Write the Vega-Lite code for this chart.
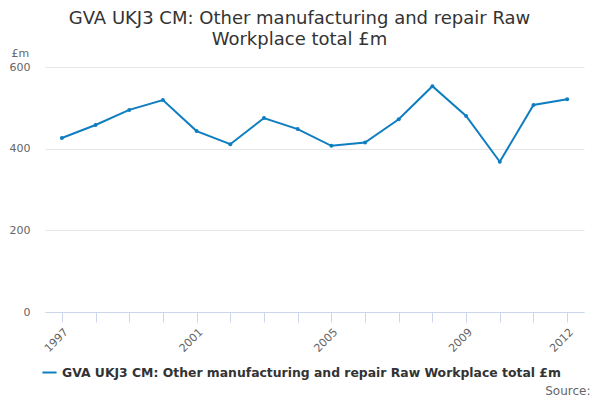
{
  "$schema": "https://vega.github.io/schema/vega-lite/v6.json",
  "autosize": {"type": "none"},
  "width": 539,
  "height": 245,
  "padding": {"left": 45, "top": 67, "right": 16, "bottom": 88},
  "title": {
    "text": ["GVA UKJ3 CM: Other manufacturing and repair Raw", "Workplace total £m"],
    "anchor": "middle",
    "dx": -15,
    "offset": -2,
    "fontSize": 18,
    "fontWeight": "normal",
    "lineHeight": 21,
    "color": "#333333",
    "font": "DejaVu Sans"
  },
  "data": {
    "values": [
      {"year": "1997", "value": 426, "series": "GVA UKJ3 CM: Other manufacturing and repair Raw Workplace total £m"},
      {"year": "1998", "value": 458, "series": "GVA UKJ3 CM: Other manufacturing and repair Raw Workplace total £m"},
      {"year": "1999", "value": 495, "series": "GVA UKJ3 CM: Other manufacturing and repair Raw Workplace total £m"},
      {"year": "2000", "value": 519, "series": "GVA UKJ3 CM: Other manufacturing and repair Raw Workplace total £m"},
      {"year": "2001", "value": 443, "series": "GVA UKJ3 CM: Other manufacturing and repair Raw Workplace total £m"},
      {"year": "2002", "value": 411, "series": "GVA UKJ3 CM: Other manufacturing and repair Raw Workplace total £m"},
      {"year": "2003", "value": 475, "series": "GVA UKJ3 CM: Other manufacturing and repair Raw Workplace total £m"},
      {"year": "2004", "value": 448, "series": "GVA UKJ3 CM: Other manufacturing and repair Raw Workplace total £m"},
      {"year": "2005", "value": 407, "series": "GVA UKJ3 CM: Other manufacturing and repair Raw Workplace total £m"},
      {"year": "2006", "value": 415, "series": "GVA UKJ3 CM: Other manufacturing and repair Raw Workplace total £m"},
      {"year": "2007", "value": 472, "series": "GVA UKJ3 CM: Other manufacturing and repair Raw Workplace total £m"},
      {"year": "2008", "value": 553, "series": "GVA UKJ3 CM: Other manufacturing and repair Raw Workplace total £m"},
      {"year": "2009", "value": 480, "series": "GVA UKJ3 CM: Other manufacturing and repair Raw Workplace total £m"},
      {"year": "2010", "value": 368, "series": "GVA UKJ3 CM: Other manufacturing and repair Raw Workplace total £m"},
      {"year": "2011", "value": 507, "series": "GVA UKJ3 CM: Other manufacturing and repair Raw Workplace total £m"},
      {"year": "2012", "value": 521, "series": "GVA UKJ3 CM: Other manufacturing and repair Raw Workplace total £m"}
    ]
  },
  "mark": {"type": "line", "strokeWidth": 2, "point": {"size": 16, "filled": true}},
  "encoding": {
    "x": {
      "field": "year",
      "type": "ordinal",
      "scale": {"type": "point", "padding": 0.5},
      "axis": {
        "title": "Source:",
        "titleAnchor": "end",
        "titleAlign": "right",
        "titleBaseline": "bottom",
        "titleX": 545,
        "titleY": 85,
        "titleFontWeight": "normal",
        "titleFontSize": 12,
        "titleColor": "#666666",
        "labelAngle": -45,
        "labelExpr": "indexof(['1997','2001','2005','2009','2012'], datum.value) >= 0 ? datum.value : ''",
        "labelColor": "#666666",
        "labelFontSize": 11,
        "labelPadding": 4,
        "domainColor": "#ccd6eb",
        "tickColor": "#ccd6eb",
        "tickSize": 10,
        "grid": false
      }
    },
    "y": {
      "field": "value",
      "type": "quantitative",
      "scale": {"domain": [0, 600]},
      "axis": {
        "values": [0, 200, 400, 600],
        "title": "£m",
        "titleAngle": 0,
        "titleAlign": "left",
        "titleBaseline": "bottom",
        "titleX": -34,
        "titleY": -9,
        "titleFontWeight": "normal",
        "titleFontSize": 11,
        "titleColor": "#666666",
        "labelColor": "#666666",
        "labelFontSize": 11,
        "labelPadding": 15,
        "domain": false,
        "ticks": false,
        "gridColor": "#e6e6e6"
      }
    },
    "color": {
      "field": "series",
      "type": "nominal",
      "scale": {"range": ["#0f7ec1"]},
      "legend": {
        "title": null,
        "orient": "none",
        "legendX": -4,
        "legendY": 297,
        "symbolType": "stroke",
        "symbolSize": 200,
        "symbolStrokeWidth": 2,
        "labelFontSize": 12.4,
        "labelFontWeight": "bold",
        "labelColor": "#333333",
        "labelLimit": 600
      }
    }
  },
  "config": {
    "font": "DejaVu Sans",
    "view": {"stroke": null}
  }
}
